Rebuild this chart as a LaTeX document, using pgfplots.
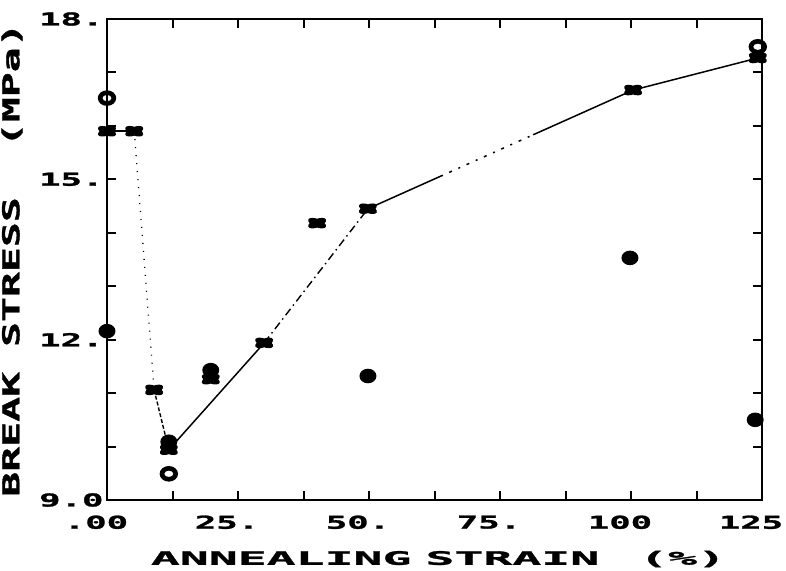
\documentclass[border=0pt]{standalone}
\usepackage{fontspec}
\usepackage{pgfplots}
\pgfplotsset{compat=1.18}
\newfontfamily\tickfont[FakeStretch=2.0,FakeBold=1.5]{DejaVu Sans Mono}
\newfontfamily\xlabfont[FakeStretch=2.6,FakeBold=1.5]{DejaVu Sans Mono}
\newfontfamily\ylabfont[FakeStretch=1.78,FakeBold=1.5]{DejaVu Sans Mono}

\pgfdeclareplotmark{myxbowtie}{%
  \pgfpathellipse{\pgfpointorigin}{\pgfpointpolar{22}{9.5pt}}{\pgfpointpolar{112}{4.2pt}}%
  \pgfpathellipse{\pgfpointorigin}{\pgfpointpolar{-22}{9.5pt}}{\pgfpointpolar{68}{4.2pt}}%
  \pgfusepathqfill}
\pgfdeclareplotmark{myopenring}{%
  \pgfseteorule
  \pgfpathellipse{\pgfpointorigin}{\pgfpoint{9.2pt}{0pt}}{\pgfpoint{0pt}{7.8pt}}%
  \pgfpathellipse{\pgfpointorigin}{\pgfpoint{4.6pt}{0pt}}{\pgfpoint{0pt}{3.2pt}}%
  \pgfusepathqfill}
\pgfdeclareplotmark{myfblob}{%
  \pgfpathellipse{\pgfpointorigin}{\pgfpoint{8.5pt}{0pt}}{\pgfpoint{0pt}{7.3pt}}%
  \pgfusepathqfill}

\begin{document}
\begin{tikzpicture}
\useasboundingbox (-107pt,-70pt) rectangle (679pt,500pt);
\begin{axis}[
  at={(0pt,0pt)}, anchor=south west,
  scale only axis, width=655pt, height=481pt,
  xmin=0, xmax=125, ymin=9, ymax=18,
  xtick={0,25,...,125}, xticklabels={.00,25.,50.,75.,100,125},
  ytick={9,12,15,18}, yticklabels={9.0,12.,15.,18.},
  minor x tick num=1, minor y tick num=2,
  tick align=inside,
  major tick length=9pt, minor tick length=9pt,
  every tick/.style={black, line width=2pt},
  axis line style={line width=2.4pt},
  clip=false,
  xticklabel style={font=\fontsize{17.8pt}{18pt}\tickfont\bfseries, yshift=-12pt, xshift=-11pt},
  yticklabel style={font=\fontsize{17.8pt}{18pt}\tickfont\bfseries},
  xlabel={ANNEALING\hspace{14pt}STRAIN\hspace{40pt}(\%)},
  xlabel style={font=\fontsize{18.5pt}{19pt}\xlabfont\bfseries, at={([xshift=4pt,yshift=-59pt]axis description cs:0.5,0)}, anchor=center},
  ylabel={BREAK STRESS\hspace{50pt}(MPa)},
  ylabel style={font=\fontsize{23.3pt}{24pt}\ylabfont\bfseries, at={([xshift=-95pt]axis description cs:0,0.5)}, anchor=center, rotate=0},
]
% connecting line, in pieces as reproduced
\addplot[line width=1.5pt, no marks] coordinates {(0,15.9) (5.2,15.9)};
\addplot[line width=1.3pt, no marks, dash pattern={on 1pt off 7pt}] coordinates {(5.2,15.9) (9.0,11.06)};
\addplot[line width=1.4pt, no marks, dash pattern={on 4pt off 2pt}] coordinates {(9.0,11.06) (11.8,9.94)};
\addplot[line width=1.5pt, no marks] coordinates {(11.8,9.94) (30,11.94)};
\addplot[line width=1.4pt, no marks, dash pattern={on 8pt off 4pt on 1.5pt off 4pt}] coordinates {(30,11.94) (49.8,14.45)};
\addplot[line width=1.5pt, no marks, dash pattern={on 82pt off 7pt on 3pt off 7pt on 2pt off 7pt on 3pt off 7pt on 2pt off 7pt on 3pt off 7pt on 2pt off 7pt on 3pt off 7pt on 2pt off 7pt on 3pt off 7pt on 2pt off 4pt on 200pt}] coordinates {(49.8,14.45) (100.4,16.67)};
\addplot[line width=1.5pt, no marks] coordinates {(100.4,16.67) (124.2,17.27)};
% crosses
\addplot[only marks, mark=myxbowtie, black] coordinates {
 (0,15.9) (5.2,15.9) (9.0,11.06) (11.8,9.94) (19.8,11.26) (30,11.94)
 (40.1,14.18) (49.8,14.45) (100.4,16.67) (124.2,17.27)};
% filled circles
\addplot[only marks, mark=myfblob, black] coordinates {
 (0,12.16) (11.8,10.09) (19.8,11.43) (49.8,11.32) (99.8,13.53) (123.7,10.50)};
% open circles
\addplot[only marks, mark=myopenring, black] coordinates {
 (0,16.52) (11.8,9.49) (124.2,17.48)};
\end{axis}
\end{tikzpicture}
\end{document}
